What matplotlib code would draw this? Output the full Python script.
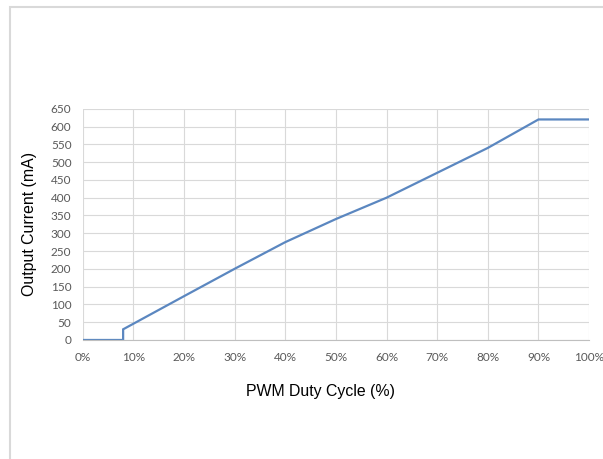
import matplotlib.pyplot as plt
from matplotlib.patches import Rectangle
from matplotlib.ticker import MultipleLocator, FuncFormatter

# Data
duty_cycle = [0, 8, 8, 20, 30, 40, 50, 60, 70, 80, 90, 100]
output_current = [0, 0, 30, 123, 200, 275, 340, 400, 470, 540, 620, 620]

LINE_COLOR = '#5b87c0'
GRID_COLOR = '#d9d9d9'
TICK_COLOR = '#595959'

fig = plt.figure(figsize=(6.03, 4.59), dpi=100)

# light grey frame around the chart area
fig.patches.append(Rectangle((10 / 603, -0.1), 1.2, 1 - 7 / 459 + 0.1,
                             transform=fig.transFigure, fill=False,
                             edgecolor=GRID_COLOR, linewidth=1.5))

ax = fig.add_axes([0.137, 0.2593, 0.84, 0.5037])
ax.plot(duty_cycle, output_current, color=LINE_COLOR, linewidth=1.6,
        solid_joinstyle='miter')

ax.set_xlim(0, 100)
ax.set_ylim(0, 650)
ax.xaxis.set_major_locator(MultipleLocator(10))
ax.yaxis.set_major_locator(MultipleLocator(50))
ax.xaxis.set_major_formatter(FuncFormatter(lambda v, p: f'{int(v)}%'))

ax.grid(True, color=GRID_COLOR, linewidth=0.8)
ax.set_axisbelow(True)
for side in ['top', 'right', 'left']:
    ax.spines[side].set_visible(False)
ax.spines['bottom'].set_color('#bfbfbf')
ax.spines['bottom'].set_linewidth(0.8)

ax.tick_params(length=0, labelsize=8.5, labelcolor=TICK_COLOR)
ax.tick_params(axis='x', pad=9)
ax.tick_params(axis='y', pad=8)
for lbl in ax.get_xticklabels() + ax.get_yticklabels():
    lbl.set_fontfamily('Lato')

ax.set_xlabel('PWM Duty Cycle (%)', fontsize=11.4, family='Liberation Sans',
              labelpad=13)
ax.xaxis.set_label_coords(0.47, -0.19)
ax.set_ylabel('Output Current (mA)', fontsize=11.4, family='Liberation Sans',
              labelpad=10)

fig.savefig('out.png', dpi=100)
